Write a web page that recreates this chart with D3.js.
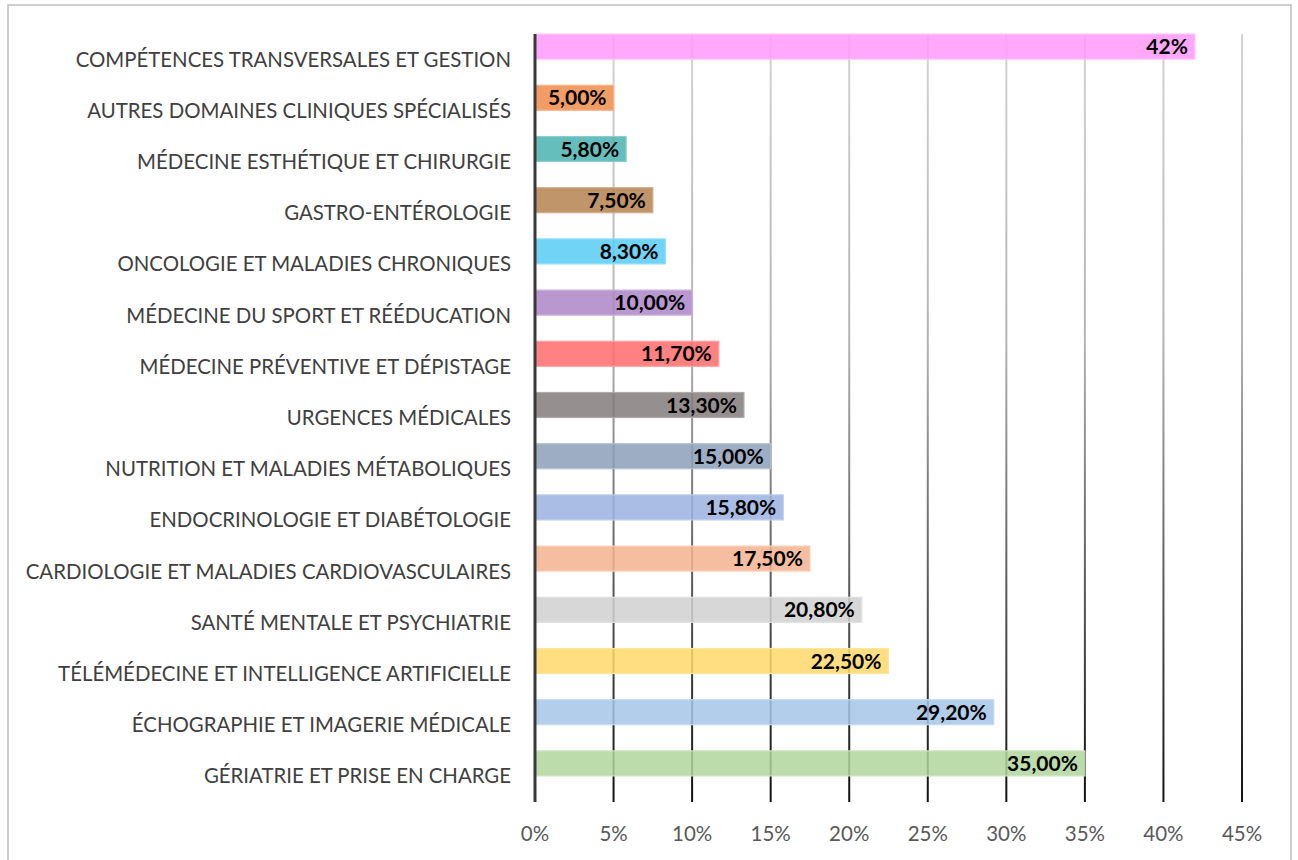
<!DOCTYPE html>
<html><head><meta charset="utf-8">
<script src="https://cdn.jsdelivr.net/npm/d3@7"></script>
<style>body{margin:0;background:#fff}svg{display:block}</style>
</head><body>
<svg id="c" width="1298" height="860"></svg>
<script>
const categories = [
  "COMPÉTENCES TRANSVERSALES ET GESTION",
  "AUTRES DOMAINES CLINIQUES SPÉCIALISÉS",
  "MÉDECINE ESTHÉTIQUE ET CHIRURGIE",
  "GASTRO-ENTÉROLOGIE",
  "ONCOLOGIE ET MALADIES CHRONIQUES",
  "MÉDECINE DU SPORT ET RÉÉDUCATION",
  "MÉDECINE PRÉVENTIVE ET DÉPISTAGE",
  "URGENCES MÉDICALES",
  "NUTRITION ET MALADIES MÉTABOLIQUES",
  "ENDOCRINOLOGIE ET DIABÉTOLOGIE",
  "CARDIOLOGIE ET MALADIES CARDIOVASCULAIRES",
  "SANTÉ MENTALE ET PSYCHIATRIE",
  "TÉLÉMÉDECINE ET INTELLIGENCE ARTIFICIELLE",
  "ÉCHOGRAPHIE ET IMAGERIE MÉDICALE",
  "GÉRIATRIE ET PRISE EN CHARGE"
];
const values = [42, 5.0, 5.8, 7.5, 8.3, 10.0, 11.7, 13.3, 15.0, 15.8, 17.5, 20.8, 22.5, 29.2, 35.0];
const valueLabels = ["42%","5,00%","5,80%","7,50%","8,30%","10,00%","11,70%","13,30%","15,00%","15,80%","17,50%","20,80%","22,50%","29,20%","35,00%"];
const colors = ["#ff99fb","#f08c4a","#4bb3b0","#b5834f","#58cbf5","#ad86c8","#ff6b6b","#827c7b","#8ca0ba","#9ab1e0","#f5b38f","#d0d0d0","#ffd86b","#a6c6e8","#b1d69c"];
const xTicks = [0,5,10,15,20,25,30,35,40,45];

const svg = d3.select("#c");
const pLeft = 535, pRight = 1242, pTop = 34, pBottom = 802;
const barShift = -13;
const x = d3.scaleLinear().domain([0,45]).range([pLeft,pRight]);
const y = d3.scaleBand().domain(categories).range([pTop,pBottom]).paddingInner(0.512).paddingOuter(0.256);

// outer border
svg.append("rect").attr("x",8).attr("y",5).attr("width",1283).attr("height",870)
  .attr("fill","#fff").attr("stroke","#bfbfbf").attr("stroke-width",1.5);

const defs = svg.append("defs");
const g = defs.append("linearGradient").attr("id","gridGrad").attr("gradientUnits","userSpaceOnUse")
  .attr("x1",0).attr("y1",pTop).attr("x2",0).attr("y2",pBottom);
g.append("stop").attr("offset","0%").attr("stop-color","#d4d4d4");
g.append("stop").attr("offset","40%").attr("stop-color","#b4b4b4");
g.append("stop").attr("offset","72%").attr("stop-color","#5a5a5a");
g.append("stop").attr("offset","100%").attr("stop-color","#111");

svg.append("g").selectAll("rect").data(xTicks.filter(d=>d>0)).join("rect")
  .attr("x",d=>x(d)-1).attr("y",pTop).attr("width",2).attr("height",pBottom-pTop)
  .attr("fill","url(#gridGrad)");

// bars
svg.append("g").selectAll("rect").data(categories).join("rect")
  .attr("x",x(0)).attr("y",d=>y(d)+barShift).attr("width",(d,i)=>x(values[i])-x(0)).attr("height",y.bandwidth())
  .attr("fill",(d,i)=>colors[i]).attr("fill-opacity",0.85)
  .attr("stroke",(d,i)=>d3.interpolateRgb(colors[i],"#fff")(0.35)).attr("stroke-width",1.2);

// axis line
svg.append("line").attr("x1",x(0)).attr("x2",x(0)).attr("y1",pTop).attr("y2",pBottom)
  .attr("stroke","#3a3a3a").attr("stroke-width",3);

// value labels
svg.append("g").selectAll("text").data(categories).join("text")
  .attr("x",(d,i)=>x(values[i])-7).attr("y",d=>y(d)+barShift+y.bandwidth()/2+7.5)
  .attr("text-anchor","end").attr("font-family","Lato, 'Open Sans', sans-serif").attr("font-weight","bold")
  .attr("font-size",21).attr("fill","#000").text((d,i)=>valueLabels[i]);

// category labels
svg.append("g").selectAll("text").data(categories).join("text")
  .attr("x",511).attr("y",d=>y(d)+y.bandwidth()/2+7)
  .attr("text-anchor","end").attr("font-family","Lato, 'Open Sans', sans-serif")
  .attr("font-size",20.4).attr("fill","#404040").text(d=>d);

// x tick labels
svg.append("g").selectAll("text").data(xTicks).join("text")
  .attr("x",d=>x(d)).attr("y",841).attr("text-anchor","middle")
  .attr("font-family","Lato, 'Open Sans', sans-serif").attr("font-size",20.5).attr("fill","#595959")
  .text(d=>d+"%");
</script>
</body></html>
